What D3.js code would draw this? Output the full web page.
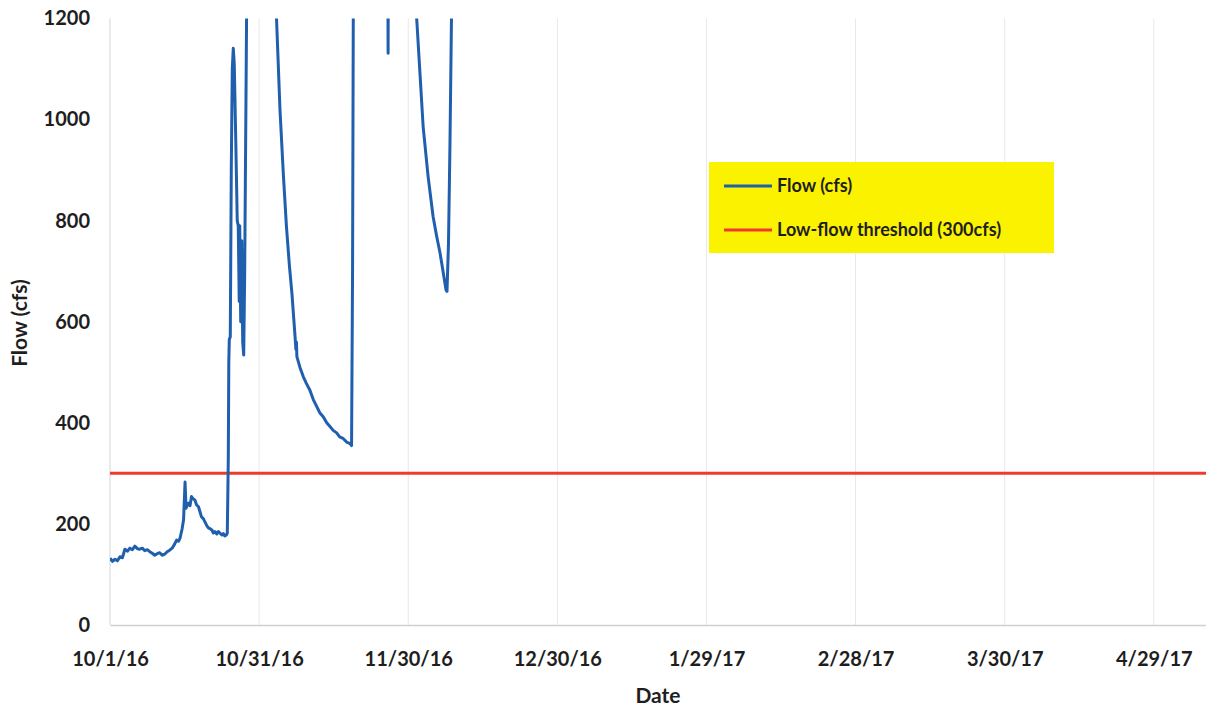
<!DOCTYPE html>
<html>
<head>
<meta charset="utf-8">
<script src="https://cdn.jsdelivr.net/npm/d3@7"></script>
<style>
  html, body { margin: 0; padding: 0; background: #fff; }
  svg { display: block; }
  text { font-family: Lato, "Open Sans", sans-serif; font-weight: 700; fill: #1e1e1e; }
</style>
</head>
<body>
<svg id="chart" width="1206" height="712"></svg>
<script>
// Flow record, as days elapsed since 10/1/16 00:00 and flow in cfs.
const startDate = new Date(2016, 9, 1);
const flowElapsedDays = [
  0.0, 0.5, 1.0, 1.5, 2.0, 2.5, 3.0, 3.5, 4.0, 4.5,
  5.0, 5.5, 6.0, 6.5, 7.0, 7.5, 8.0, 8.5, 9.0, 9.5,
  10.0, 10.5, 11.0, 11.5, 12.0, 12.5, 13.0, 13.4, 13.8, 14.1,
  14.5, 14.8, 15.1, 15.3, 15.6, 15.8, 16.1, 16.4, 16.7, 17.1,
  17.4, 17.8, 18.1, 18.4, 18.8, 19.1, 19.5, 19.8, 20.2, 20.5,
  20.8, 21.1, 21.5, 21.8, 22.2, 22.5, 22.8, 23.1, 23.4, 23.6,
  23.8, 23.9, 24.0, 24.2, 24.4, 24.6, 24.8, 25.0, 25.3, 25.6,
  25.8, 26.0, 26.1, 26.3, 26.5, 26.7, 26.9, 27.1, 27.4, 27.7,
  28.5, 30.0, 32.0, 33.5, 34.2, 34.9, 35.5, 36.1, 36.6, 37.2,
  37.4, 37.5, 37.6, 38.2, 38.9, 39.5, 40.2, 40.9, 41.6, 42.2,
  42.9, 43.6, 44.3, 44.9, 45.6, 46.2, 46.9, 47.6, 48.3, 48.6,
  48.8, 49.0, 49.5, 50.5, 52.0, 54.0, 55.8, 55.95, 56.1, 57.0,
  59.0, 61.0, 61.7, 62.4, 63.0, 64.0, 65.0, 65.7, 66.4, 67.0,
  67.6, 67.8, 68.1, 68.4, 68.7, 69.0, 69.3
];
const flowCfs = [
  132, 126, 130, 127, 135, 133, 150, 146, 152, 149,
  156, 151, 150, 152, 147, 149, 145, 142, 138, 141,
  143, 138, 140, 145, 148, 152, 160, 168, 166, 172,
  190, 208, 283, 231, 238, 241, 236, 254, 250, 247,
  238, 234, 224, 214, 210, 204, 196, 192, 190, 188,
  182, 185, 180, 185, 181, 178, 181, 176, 178, 182,
  330, 520, 565, 570, 900, 1100, 1141, 1110, 960, 800,
  790, 640, 790, 600, 760, 560, 534, 700, 1100, 1500,
  2800, 2500, 1700, 1200, 1019, 887, 788, 710, 656, 575,
  545, 560, 531, 510, 491, 478, 465, 446, 432, 420,
  412, 400, 392, 385, 380, 372, 369, 362, 359, 355,
  700, 1400, 2600, 3400, 2600, 1900, 1600, 1131, 1700, 2600,
  1900, 1350, 1200, 1085, 986, 887, 808, 770, 736, 700,
  663, 660, 755, 953, 1200, 1600, 2000
];

const thresholdCfs = 300;
const yTickValues = [0, 200, 400, 600, 800, 1000, 1200];
const xTickLabels = ["10/1/16", "10/31/16", "11/30/16", "12/30/16", "1/29/17", "2/28/17", "3/30/17", "4/29/17"];
const seriesNames = ["Flow (cfs)", "Low-flow threshold (300cfs)"];
const seriesColors = ["#1f5fae", "#f03a2e"];

const svg = d3.select("#chart");
const margin = { left: 110, right: 0, top: 18.4, bottom: 87 };
const W = 1206, H = 712;

const parseTick = d3.timeParse("%m/%d/%y");
const fmtTick = d3.timeFormat("%-m/%-d/%y");
const xTickDates = xTickLabels.map(parseTick);

const x = d3.scaleTime()
  .domain([startDate, new Date(2017, 4, 9, 12)])
  .range([margin.left, W - margin.right]);
const y = d3.scaleLinear()
  .domain([0, 1200])
  .range([H - margin.bottom, margin.top]);

const flow = flowElapsedDays.map((d, i) => ({
  date: new Date(startDate.getTime() + d * 864e5),
  value: flowCfs[i]
}));

// vertical gridlines at each date tick
svg.append("g")
  .selectAll("line")
  .data(xTickDates)
  .join("line")
  .attr("x1", d => x(d)).attr("x2", d => x(d))
  .attr("y1", y(1200)).attr("y2", y(0))
  .attr("stroke", d => +d === +startDate ? "#d4d4d4" : "#e8e8e8")
  .attr("stroke-width", 1);

// x axis
const xAxis = svg.append("g")
  .attr("transform", `translate(0,${y(0)})`)
  .call(d3.axisBottom(x).tickValues(xTickDates).tickFormat(fmtTick).tickSize(0).tickPadding(27));
xAxis.select(".domain").attr("stroke", "#d0d0d0").attr("stroke-width", 1.5);
xAxis.selectAll("text").style("font-size", "20px").style("font-family", "Lato, sans-serif").style("font-weight", 700).attr("fill", "#1e1e1e");

// y axis
const yAxis = svg.append("g")
  .attr("transform", `translate(${margin.left},0)`)
  .call(d3.axisLeft(y).tickValues(yTickValues).tickFormat(d3.format("d")).tickSize(0).tickPadding(20));
yAxis.select(".domain").remove();
yAxis.selectAll("text").style("font-size", "20px").style("font-family", "Lato, sans-serif").style("font-weight", 700).attr("fill", "#1e1e1e");

// axis titles
svg.append("text")
  .attr("x", 658).attr("y", 703)
  .attr("text-anchor", "middle")
  .style("font-size", "21px")
  .text("Date");
svg.append("text")
  .attr("transform", `translate(27,${323}) rotate(-90)`)
  .attr("text-anchor", "middle")
  .style("font-size", "21px")
  .text("Flow (cfs)");

// clip to plot area
svg.append("clipPath").attr("id", "plot-clip")
  .append("rect")
  .attr("x", margin.left).attr("y", y(1200))
  .attr("width", W - margin.left).attr("height", y(0) - y(1200));

const plot = svg.append("g").attr("clip-path", "url(#plot-clip)");

// threshold line
plot.append("path")
  .datum(x.domain().map(d => ({ date: d, value: thresholdCfs })))
  .attr("fill", "none")
  .attr("stroke", seriesColors[1])
  .attr("stroke-width", 3)
  .attr("d", d3.line().x(d => x(d.date)).y(d => y(d.value)));

// flow line
plot.append("path")
  .datum(flow)
  .attr("fill", "none")
  .attr("stroke", seriesColors[0])
  .attr("stroke-width", 3)
  .attr("stroke-linejoin", "round")
  .attr("d", d3.line().x(d => x(d.date)).y(d => y(d.value)));

// legend
const legend = svg.append("g").attr("transform", "translate(709,162)");
legend.append("rect")
  .attr("width", 345).attr("height", 91)
  .attr("fill", "#fbf200");
seriesNames.forEach((name, i) => {
  const ly = 24 + i * 44;
  legend.append("line")
    .attr("x1", 15).attr("x2", 63)
    .attr("y1", ly).attr("y2", ly)
    .attr("stroke", seriesColors[i]).attr("stroke-width", 3);
  legend.append("text")
    .attr("x", 68).attr("y", ly + 6)
    .style("font-size", "18px")
    .text(name);
});
</script>
</body>
</html>
